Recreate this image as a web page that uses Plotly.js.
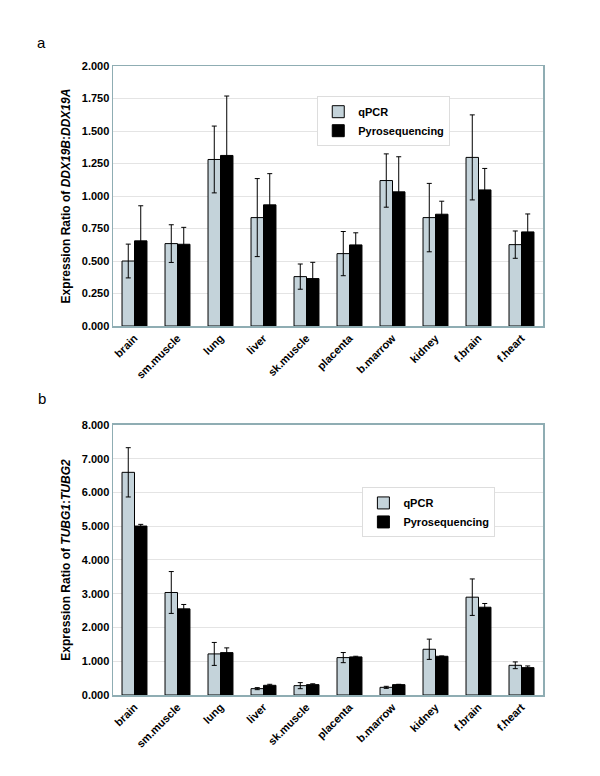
<!DOCTYPE html>
<html>
<head>
<meta charset="utf-8">
<script src="https://cdn.plot.ly/plotly-3.0.1.min.js"></script>
<style>html,body{margin:0;padding:0;background:#fff;} #chart{width:600px;height:776px;}</style>
</head>
<body>
<div id="chart"></div>
<script>
const categories = ['brain','sm.muscle','lung','liver','sk.muscle','placenta','b.marrow','kidney','f.brain','f.heart'];

// Panel a: DDX19B:DDX19A
const aQpcr = [0.50, 0.634, 1.281, 0.834, 0.380, 0.557, 1.119, 0.834, 1.297, 0.626];
const aQpcrErr = [0.13, 0.145, 0.257, 0.30, 0.097, 0.17, 0.205, 0.263, 0.327, 0.105];
const aPyro = [0.655, 0.629, 1.312, 0.932, 0.365, 0.624, 1.032, 0.860, 1.047, 0.724];
const aPyroErr = [0.27, 0.13, 0.457, 0.24, 0.125, 0.093, 0.27, 0.10, 0.165, 0.138];

// Panel b: TUBG1:TUBG2
const bQpcr = [6.597, 3.037, 1.217, 0.188, 0.277, 1.108, 0.227, 1.355, 2.898, 0.88];
const bQpcrErr = [0.73, 0.62, 0.34, 0.03, 0.09, 0.15, 0.03, 0.30, 0.54, 0.10];
const bPyro = [5.005, 2.552, 1.256, 0.287, 0.307, 1.128, 0.307, 1.147, 2.601, 0.811];
const bPyroErr = [0.05, 0.13, 0.14, 0.03, 0.025, 0.02, 0.01, 0.01, 0.11, 0.05];

const aTicks = [0, 0.25, 0.5, 0.75, 1.0, 1.25, 1.5, 1.75, 2.0];
const bTicks = [0, 1, 2, 3, 4, 5, 6, 7, 8];

const qColor = '#c4d3da';
const pColor = '#000000';
const fontFam = '"Liberation Sans", Arial, sans-serif';

function barTrace(y, err, name, color, xa, ya, leg, show) {
  return {
    type: 'bar', x: categories, y: y, name: name,
    xaxis: xa, yaxis: ya, legend: leg, showlegend: show,
    marker: {color: color, line: {color: '#000', width: 1}},
    error_y: {type: 'data', array: err, visible: true, color: '#000', thickness: 1, width: 2.5}
  };
}

const data = [
  barTrace(aQpcr, aQpcrErr, 'qPCR', qColor, 'x', 'y', 'legend', true),
  barTrace(aPyro, aPyroErr, 'Pyrosequencing', pColor, 'x', 'y', 'legend', true),
  barTrace(bQpcr, bQpcrErr, 'qPCR', qColor, 'x2', 'y2', 'legend2', true),
  barTrace(bPyro, bPyroErr, 'Pyrosequencing', pColor, 'x2', 'y2', 'legend2', true)
];

const tickFont = {family: fontFam, size: 11, color: '#000', weight: 'bold'};
const borderColor = '#8fadb3';

function xAxis(anchor) {
  return {
    anchor: anchor, tickangle: -45, tickfont: tickFont, showgrid: false,
    showline: true, mirror: true, linecolor: borderColor, linewidth: 1.5,
    ticks: '', fixedrange: true
  };
}
function yAxis(anchor, domain, range, ticks, titleHtml) {
  return {
    anchor: anchor, domain: domain, range: range, tickvals: ticks,
    tickformat: '.3f', tickfont: tickFont, showgrid: true, gridcolor: '#e4e4e4',
    showline: true, mirror: true, linecolor: borderColor, linewidth: 1.5,
    zeroline: false, ticks: '',
    title: {text: titleHtml, font: {family: fontFam, size: 12, color: '#000', weight: 'bold'}, standoff: 8}
  };
}

const legendFont = {family: fontFam, size: 11, color: '#000', weight: 'bold'};

const layout = {
  width: 600, height: 776,
  margin: {l: 113, r: 57, t: 66, b: 81},
  paper_bgcolor: '#fff', plot_bgcolor: '#fff',
  barmode: 'group', bargap: 0.42, bargroupgap: 0,
  font: {family: fontFam, color: '#000'},
  xaxis: xAxis('y'),
  yaxis: yAxis('x', [0.5866, 1], [0, 2], aTicks, 'Expression Ratio of <i>DDX19B</i>:<i>DDX19A</i>'),
  xaxis2: xAxis('y2'),
  yaxis2: yAxis('x2', [0, 0.4293], [0, 8], bTicks, 'Expression Ratio of <i>TUBG1</i>:<i>TUBG2</i>'),
  legend: {
    x: 0.475, y: 0.952, xanchor: 'left', yanchor: 'top',
    bgcolor: '#fff', bordercolor: '#dddddd', borderwidth: 1,
    font: legendFont, tracegroupgap: 0, itemwidth: 30
  },
  legend2: {
    x: 0.58, y: 0.330, xanchor: 'left', yanchor: 'top',
    bgcolor: '#fff', bordercolor: '#dddddd', borderwidth: 1,
    font: legendFont, tracegroupgap: 0, itemwidth: 30
  },
  annotations: [
    {text: 'a', xref: 'paper', yref: 'paper', x: -0.167, y: 1.038, showarrow: false,
     xanchor: 'center', yanchor: 'middle', font: {family: fontFam, size: 15, color: '#000'}},
    {text: 'b', xref: 'paper', yref: 'paper', x: -0.165, y: 0.472, showarrow: false,
     xanchor: 'center', yanchor: 'middle', font: {family: fontFam, size: 15, color: '#000'}}
  ]
};

Plotly.newPlot('chart', data, layout, {displayModeBar: false, staticPlot: true});
</script>
</body>
</html>
